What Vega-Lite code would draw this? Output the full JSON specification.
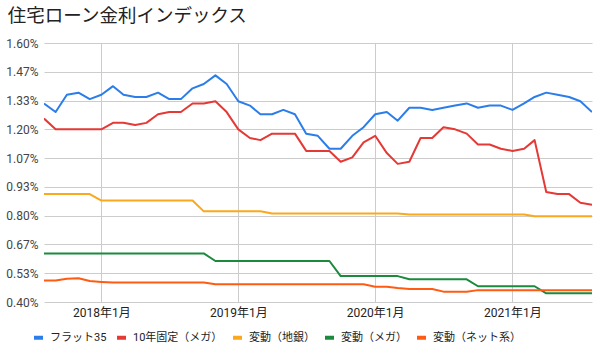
{
  "$schema": "https://vega.github.io/schema/vega-lite/v6.json",
  "width": 548,
  "height": 259,
  "autosize": {"type": "none"},
  "padding": {"left": 44, "top": 43, "right": 8, "bottom": 50},
  "background": "#ffffff",
  "title": {
    "text": "住宅ローン金利インデックス",
    "anchor": "start",
    "frame": "bounds",
    "offset": 12,
    "fontSize": 18.5,
    "fontWeight": "normal",
    "color": "#222222",
    "font": "Noto Sans CJK JP",
    "dx": 2
  },
  "config": {
    "view": {"stroke": null},
    "font": "Roboto, Noto Sans CJK JP"
  },
  "datasets": {
    "rates": [
      {"d": "2017/08/01", "s": "フラット35", "v": 1.32},
      {"d": "2017/09/01", "s": "フラット35", "v": 1.28},
      {"d": "2017/10/01", "s": "フラット35", "v": 1.36},
      {"d": "2017/11/01", "s": "フラット35", "v": 1.37},
      {"d": "2017/12/01", "s": "フラット35", "v": 1.34},
      {"d": "2018/01/01", "s": "フラット35", "v": 1.36},
      {"d": "2018/02/01", "s": "フラット35", "v": 1.40},
      {"d": "2018/03/01", "s": "フラット35", "v": 1.36},
      {"d": "2018/04/01", "s": "フラット35", "v": 1.35},
      {"d": "2018/05/01", "s": "フラット35", "v": 1.35},
      {"d": "2018/06/01", "s": "フラット35", "v": 1.37},
      {"d": "2018/07/01", "s": "フラット35", "v": 1.34},
      {"d": "2018/08/01", "s": "フラット35", "v": 1.34},
      {"d": "2018/09/01", "s": "フラット35", "v": 1.39},
      {"d": "2018/10/01", "s": "フラット35", "v": 1.41},
      {"d": "2018/11/01", "s": "フラット35", "v": 1.45},
      {"d": "2018/12/01", "s": "フラット35", "v": 1.41},
      {"d": "2019/01/01", "s": "フラット35", "v": 1.33},
      {"d": "2019/02/01", "s": "フラット35", "v": 1.31},
      {"d": "2019/03/01", "s": "フラット35", "v": 1.27},
      {"d": "2019/04/01", "s": "フラット35", "v": 1.27},
      {"d": "2019/05/01", "s": "フラット35", "v": 1.29},
      {"d": "2019/06/01", "s": "フラット35", "v": 1.27},
      {"d": "2019/07/01", "s": "フラット35", "v": 1.18},
      {"d": "2019/08/01", "s": "フラット35", "v": 1.17},
      {"d": "2019/09/01", "s": "フラット35", "v": 1.11},
      {"d": "2019/10/01", "s": "フラット35", "v": 1.11},
      {"d": "2019/11/01", "s": "フラット35", "v": 1.17},
      {"d": "2019/12/01", "s": "フラット35", "v": 1.21},
      {"d": "2020/01/01", "s": "フラット35", "v": 1.27},
      {"d": "2020/02/01", "s": "フラット35", "v": 1.28},
      {"d": "2020/03/01", "s": "フラット35", "v": 1.24},
      {"d": "2020/04/01", "s": "フラット35", "v": 1.30},
      {"d": "2020/05/01", "s": "フラット35", "v": 1.30},
      {"d": "2020/06/01", "s": "フラット35", "v": 1.29},
      {"d": "2020/07/01", "s": "フラット35", "v": 1.30},
      {"d": "2020/08/01", "s": "フラット35", "v": 1.31},
      {"d": "2020/09/01", "s": "フラット35", "v": 1.32},
      {"d": "2020/10/01", "s": "フラット35", "v": 1.30},
      {"d": "2020/11/01", "s": "フラット35", "v": 1.31},
      {"d": "2020/12/01", "s": "フラット35", "v": 1.31},
      {"d": "2021/01/01", "s": "フラット35", "v": 1.29},
      {"d": "2021/02/01", "s": "フラット35", "v": 1.32},
      {"d": "2021/03/01", "s": "フラット35", "v": 1.35},
      {"d": "2021/04/01", "s": "フラット35", "v": 1.37},
      {"d": "2021/05/01", "s": "フラット35", "v": 1.36},
      {"d": "2021/06/01", "s": "フラット35", "v": 1.35},
      {"d": "2021/07/01", "s": "フラット35", "v": 1.33},
      {"d": "2021/08/01", "s": "フラット35", "v": 1.28},

      {"d": "2017/08/01", "s": "10年固定（メガ）", "v": 1.25},
      {"d": "2017/09/01", "s": "10年固定（メガ）", "v": 1.20},
      {"d": "2017/10/01", "s": "10年固定（メガ）", "v": 1.20},
      {"d": "2017/11/01", "s": "10年固定（メガ）", "v": 1.20},
      {"d": "2017/12/01", "s": "10年固定（メガ）", "v": 1.20},
      {"d": "2018/01/01", "s": "10年固定（メガ）", "v": 1.20},
      {"d": "2018/02/01", "s": "10年固定（メガ）", "v": 1.23},
      {"d": "2018/03/01", "s": "10年固定（メガ）", "v": 1.23},
      {"d": "2018/04/01", "s": "10年固定（メガ）", "v": 1.22},
      {"d": "2018/05/01", "s": "10年固定（メガ）", "v": 1.23},
      {"d": "2018/06/01", "s": "10年固定（メガ）", "v": 1.27},
      {"d": "2018/07/01", "s": "10年固定（メガ）", "v": 1.28},
      {"d": "2018/08/01", "s": "10年固定（メガ）", "v": 1.28},
      {"d": "2018/09/01", "s": "10年固定（メガ）", "v": 1.32},
      {"d": "2018/10/01", "s": "10年固定（メガ）", "v": 1.32},
      {"d": "2018/11/01", "s": "10年固定（メガ）", "v": 1.33},
      {"d": "2018/12/01", "s": "10年固定（メガ）", "v": 1.28},
      {"d": "2019/01/01", "s": "10年固定（メガ）", "v": 1.20},
      {"d": "2019/02/01", "s": "10年固定（メガ）", "v": 1.16},
      {"d": "2019/03/01", "s": "10年固定（メガ）", "v": 1.15},
      {"d": "2019/04/01", "s": "10年固定（メガ）", "v": 1.18},
      {"d": "2019/05/01", "s": "10年固定（メガ）", "v": 1.18},
      {"d": "2019/06/01", "s": "10年固定（メガ）", "v": 1.18},
      {"d": "2019/07/01", "s": "10年固定（メガ）", "v": 1.10},
      {"d": "2019/08/01", "s": "10年固定（メガ）", "v": 1.10},
      {"d": "2019/09/01", "s": "10年固定（メガ）", "v": 1.10},
      {"d": "2019/10/01", "s": "10年固定（メガ）", "v": 1.05},
      {"d": "2019/11/01", "s": "10年固定（メガ）", "v": 1.07},
      {"d": "2019/12/01", "s": "10年固定（メガ）", "v": 1.14},
      {"d": "2020/01/01", "s": "10年固定（メガ）", "v": 1.17},
      {"d": "2020/02/01", "s": "10年固定（メガ）", "v": 1.09},
      {"d": "2020/03/01", "s": "10年固定（メガ）", "v": 1.04},
      {"d": "2020/04/01", "s": "10年固定（メガ）", "v": 1.05},
      {"d": "2020/05/01", "s": "10年固定（メガ）", "v": 1.16},
      {"d": "2020/06/01", "s": "10年固定（メガ）", "v": 1.16},
      {"d": "2020/07/01", "s": "10年固定（メガ）", "v": 1.21},
      {"d": "2020/08/01", "s": "10年固定（メガ）", "v": 1.20},
      {"d": "2020/09/01", "s": "10年固定（メガ）", "v": 1.18},
      {"d": "2020/10/01", "s": "10年固定（メガ）", "v": 1.13},
      {"d": "2020/11/01", "s": "10年固定（メガ）", "v": 1.13},
      {"d": "2020/12/01", "s": "10年固定（メガ）", "v": 1.11},
      {"d": "2021/01/01", "s": "10年固定（メガ）", "v": 1.10},
      {"d": "2021/02/01", "s": "10年固定（メガ）", "v": 1.11},
      {"d": "2021/03/01", "s": "10年固定（メガ）", "v": 1.15},
      {"d": "2021/04/01", "s": "10年固定（メガ）", "v": 0.91},
      {"d": "2021/05/01", "s": "10年固定（メガ）", "v": 0.90},
      {"d": "2021/06/01", "s": "10年固定（メガ）", "v": 0.90},
      {"d": "2021/07/01", "s": "10年固定（メガ）", "v": 0.86},
      {"d": "2021/08/01", "s": "10年固定（メガ）", "v": 0.85},

      {"d": "2017/08/01", "s": "変動（地銀）", "v": 0.90},
      {"d": "2017/09/01", "s": "変動（地銀）", "v": 0.90},
      {"d": "2017/10/01", "s": "変動（地銀）", "v": 0.90},
      {"d": "2017/11/01", "s": "変動（地銀）", "v": 0.90},
      {"d": "2017/12/01", "s": "変動（地銀）", "v": 0.90},
      {"d": "2018/01/01", "s": "変動（地銀）", "v": 0.87},
      {"d": "2018/02/01", "s": "変動（地銀）", "v": 0.87},
      {"d": "2018/03/01", "s": "変動（地銀）", "v": 0.87},
      {"d": "2018/04/01", "s": "変動（地銀）", "v": 0.87},
      {"d": "2018/05/01", "s": "変動（地銀）", "v": 0.87},
      {"d": "2018/06/01", "s": "変動（地銀）", "v": 0.87},
      {"d": "2018/07/01", "s": "変動（地銀）", "v": 0.87},
      {"d": "2018/08/01", "s": "変動（地銀）", "v": 0.87},
      {"d": "2018/09/01", "s": "変動（地銀）", "v": 0.87},
      {"d": "2018/10/01", "s": "変動（地銀）", "v": 0.82},
      {"d": "2018/11/01", "s": "変動（地銀）", "v": 0.82},
      {"d": "2018/12/01", "s": "変動（地銀）", "v": 0.82},
      {"d": "2019/01/01", "s": "変動（地銀）", "v": 0.82},
      {"d": "2019/02/01", "s": "変動（地銀）", "v": 0.82},
      {"d": "2019/03/01", "s": "変動（地銀）", "v": 0.82},
      {"d": "2019/04/01", "s": "変動（地銀）", "v": 0.81},
      {"d": "2019/05/01", "s": "変動（地銀）", "v": 0.81},
      {"d": "2019/06/01", "s": "変動（地銀）", "v": 0.81},
      {"d": "2019/07/01", "s": "変動（地銀）", "v": 0.81},
      {"d": "2019/08/01", "s": "変動（地銀）", "v": 0.81},
      {"d": "2019/09/01", "s": "変動（地銀）", "v": 0.81},
      {"d": "2019/10/01", "s": "変動（地銀）", "v": 0.81},
      {"d": "2019/11/01", "s": "変動（地銀）", "v": 0.81},
      {"d": "2019/12/01", "s": "変動（地銀）", "v": 0.81},
      {"d": "2020/01/01", "s": "変動（地銀）", "v": 0.81},
      {"d": "2020/02/01", "s": "変動（地銀）", "v": 0.81},
      {"d": "2020/03/01", "s": "変動（地銀）", "v": 0.81},
      {"d": "2020/04/01", "s": "変動（地銀）", "v": 0.805},
      {"d": "2020/05/01", "s": "変動（地銀）", "v": 0.805},
      {"d": "2020/06/01", "s": "変動（地銀）", "v": 0.805},
      {"d": "2020/07/01", "s": "変動（地銀）", "v": 0.805},
      {"d": "2020/08/01", "s": "変動（地銀）", "v": 0.805},
      {"d": "2020/09/01", "s": "変動（地銀）", "v": 0.805},
      {"d": "2020/10/01", "s": "変動（地銀）", "v": 0.805},
      {"d": "2020/11/01", "s": "変動（地銀）", "v": 0.805},
      {"d": "2020/12/01", "s": "変動（地銀）", "v": 0.805},
      {"d": "2021/01/01", "s": "変動（地銀）", "v": 0.805},
      {"d": "2021/02/01", "s": "変動（地銀）", "v": 0.805},
      {"d": "2021/03/01", "s": "変動（地銀）", "v": 0.797},
      {"d": "2021/04/01", "s": "変動（地銀）", "v": 0.797},
      {"d": "2021/05/01", "s": "変動（地銀）", "v": 0.797},
      {"d": "2021/06/01", "s": "変動（地銀）", "v": 0.797},
      {"d": "2021/07/01", "s": "変動（地銀）", "v": 0.797},
      {"d": "2021/08/01", "s": "変動（地銀）", "v": 0.797},

      {"d": "2017/08/01", "s": "変動（メガ）", "v": 0.625},
      {"d": "2017/09/01", "s": "変動（メガ）", "v": 0.625},
      {"d": "2017/10/01", "s": "変動（メガ）", "v": 0.625},
      {"d": "2017/11/01", "s": "変動（メガ）", "v": 0.625},
      {"d": "2017/12/01", "s": "変動（メガ）", "v": 0.625},
      {"d": "2018/01/01", "s": "変動（メガ）", "v": 0.625},
      {"d": "2018/02/01", "s": "変動（メガ）", "v": 0.625},
      {"d": "2018/03/01", "s": "変動（メガ）", "v": 0.625},
      {"d": "2018/04/01", "s": "変動（メガ）", "v": 0.625},
      {"d": "2018/05/01", "s": "変動（メガ）", "v": 0.625},
      {"d": "2018/06/01", "s": "変動（メガ）", "v": 0.625},
      {"d": "2018/07/01", "s": "変動（メガ）", "v": 0.625},
      {"d": "2018/08/01", "s": "変動（メガ）", "v": 0.625},
      {"d": "2018/09/01", "s": "変動（メガ）", "v": 0.625},
      {"d": "2018/10/01", "s": "変動（メガ）", "v": 0.625},
      {"d": "2018/11/01", "s": "変動（メガ）", "v": 0.59},
      {"d": "2018/12/01", "s": "変動（メガ）", "v": 0.59},
      {"d": "2019/01/01", "s": "変動（メガ）", "v": 0.59},
      {"d": "2019/02/01", "s": "変動（メガ）", "v": 0.59},
      {"d": "2019/03/01", "s": "変動（メガ）", "v": 0.59},
      {"d": "2019/04/01", "s": "変動（メガ）", "v": 0.59},
      {"d": "2019/05/01", "s": "変動（メガ）", "v": 0.59},
      {"d": "2019/06/01", "s": "変動（メガ）", "v": 0.59},
      {"d": "2019/07/01", "s": "変動（メガ）", "v": 0.59},
      {"d": "2019/08/01", "s": "変動（メガ）", "v": 0.59},
      {"d": "2019/09/01", "s": "変動（メガ）", "v": 0.59},
      {"d": "2019/10/01", "s": "変動（メガ）", "v": 0.52},
      {"d": "2019/11/01", "s": "変動（メガ）", "v": 0.52},
      {"d": "2019/12/01", "s": "変動（メガ）", "v": 0.52},
      {"d": "2020/01/01", "s": "変動（メガ）", "v": 0.52},
      {"d": "2020/02/01", "s": "変動（メガ）", "v": 0.52},
      {"d": "2020/03/01", "s": "変動（メガ）", "v": 0.52},
      {"d": "2020/04/01", "s": "変動（メガ）", "v": 0.505},
      {"d": "2020/05/01", "s": "変動（メガ）", "v": 0.505},
      {"d": "2020/06/01", "s": "変動（メガ）", "v": 0.505},
      {"d": "2020/07/01", "s": "変動（メガ）", "v": 0.505},
      {"d": "2020/08/01", "s": "変動（メガ）", "v": 0.505},
      {"d": "2020/09/01", "s": "変動（メガ）", "v": 0.505},
      {"d": "2020/10/01", "s": "変動（メガ）", "v": 0.473},
      {"d": "2020/11/01", "s": "変動（メガ）", "v": 0.473},
      {"d": "2020/12/01", "s": "変動（メガ）", "v": 0.473},
      {"d": "2021/01/01", "s": "変動（メガ）", "v": 0.473},
      {"d": "2021/02/01", "s": "変動（メガ）", "v": 0.473},
      {"d": "2021/03/01", "s": "変動（メガ）", "v": 0.473},
      {"d": "2021/04/01", "s": "変動（メガ）", "v": 0.44},
      {"d": "2021/05/01", "s": "変動（メガ）", "v": 0.44},
      {"d": "2021/06/01", "s": "変動（メガ）", "v": 0.44},
      {"d": "2021/07/01", "s": "変動（メガ）", "v": 0.44},
      {"d": "2021/08/01", "s": "変動（メガ）", "v": 0.44},

      {"d": "2017/08/01", "s": "変動（ネット系）", "v": 0.50},
      {"d": "2017/09/01", "s": "変動（ネット系）", "v": 0.50},
      {"d": "2017/10/01", "s": "変動（ネット系）", "v": 0.508},
      {"d": "2017/11/01", "s": "変動（ネット系）", "v": 0.51},
      {"d": "2017/12/01", "s": "変動（ネット系）", "v": 0.497},
      {"d": "2018/01/01", "s": "変動（ネット系）", "v": 0.493},
      {"d": "2018/02/01", "s": "変動（ネット系）", "v": 0.49},
      {"d": "2018/03/01", "s": "変動（ネット系）", "v": 0.49},
      {"d": "2018/04/01", "s": "変動（ネット系）", "v": 0.49},
      {"d": "2018/05/01", "s": "変動（ネット系）", "v": 0.49},
      {"d": "2018/06/01", "s": "変動（ネット系）", "v": 0.49},
      {"d": "2018/07/01", "s": "変動（ネット系）", "v": 0.49},
      {"d": "2018/08/01", "s": "変動（ネット系）", "v": 0.49},
      {"d": "2018/09/01", "s": "変動（ネット系）", "v": 0.49},
      {"d": "2018/10/01", "s": "変動（ネット系）", "v": 0.49},
      {"d": "2018/11/01", "s": "変動（ネット系）", "v": 0.482},
      {"d": "2018/12/01", "s": "変動（ネット系）", "v": 0.482},
      {"d": "2019/01/01", "s": "変動（ネット系）", "v": 0.482},
      {"d": "2019/02/01", "s": "変動（ネット系）", "v": 0.482},
      {"d": "2019/03/01", "s": "変動（ネット系）", "v": 0.482},
      {"d": "2019/04/01", "s": "変動（ネット系）", "v": 0.482},
      {"d": "2019/05/01", "s": "変動（ネット系）", "v": 0.482},
      {"d": "2019/06/01", "s": "変動（ネット系）", "v": 0.482},
      {"d": "2019/07/01", "s": "変動（ネット系）", "v": 0.482},
      {"d": "2019/08/01", "s": "変動（ネット系）", "v": 0.482},
      {"d": "2019/09/01", "s": "変動（ネット系）", "v": 0.482},
      {"d": "2019/10/01", "s": "変動（ネット系）", "v": 0.482},
      {"d": "2019/11/01", "s": "変動（ネット系）", "v": 0.482},
      {"d": "2019/12/01", "s": "変動（ネット系）", "v": 0.482},
      {"d": "2020/01/01", "s": "変動（ネット系）", "v": 0.471},
      {"d": "2020/02/01", "s": "変動（ネット系）", "v": 0.471},
      {"d": "2020/03/01", "s": "変動（ネット系）", "v": 0.465},
      {"d": "2020/04/01", "s": "変動（ネット系）", "v": 0.46},
      {"d": "2020/05/01", "s": "変動（ネット系）", "v": 0.46},
      {"d": "2020/06/01", "s": "変動（ネット系）", "v": 0.46},
      {"d": "2020/07/01", "s": "変動（ネット系）", "v": 0.448},
      {"d": "2020/08/01", "s": "変動（ネット系）", "v": 0.448},
      {"d": "2020/09/01", "s": "変動（ネット系）", "v": 0.448},
      {"d": "2020/10/01", "s": "変動（ネット系）", "v": 0.455},
      {"d": "2020/11/01", "s": "変動（ネット系）", "v": 0.455},
      {"d": "2020/12/01", "s": "変動（ネット系）", "v": 0.455},
      {"d": "2021/01/01", "s": "変動（ネット系）", "v": 0.455},
      {"d": "2021/02/01", "s": "変動（ネット系）", "v": 0.455},
      {"d": "2021/03/01", "s": "変動（ネット系）", "v": 0.455},
      {"d": "2021/04/01", "s": "変動（ネット系）", "v": 0.455},
      {"d": "2021/05/01", "s": "変動（ネット系）", "v": 0.455},
      {"d": "2021/06/01", "s": "変動（ネット系）", "v": 0.455},
      {"d": "2021/07/01", "s": "変動（ネット系）", "v": 0.455},
      {"d": "2021/08/01", "s": "変動（ネット系）", "v": 0.455}
    ]
  },
  "data": {"name": "rates"},
  "mark": {"type": "line", "strokeWidth": 2, "strokeJoin": "round", "clip": true},
  "encoding": {
    "x": {
      "field": "d",
      "type": "temporal",
      "scale": {"domain": [{"year": 2017, "month": 8, "date": 1}, {"year": 2021, "month": 8, "date": 1}]},
      "axis": {
        "title": null,
        "values": [
          {"year": 2018, "month": 1, "date": 1},
          {"year": 2019, "month": 1, "date": 1},
          {"year": 2020, "month": 1, "date": 1},
          {"year": 2021, "month": 1, "date": 1}
        ],
        "format": "%Y年%-m月",
        "formatType": "time",
        "domain": false,
        "ticks": false,
        "grid": true,
        "gridColor": "#cccccc",
        "gridWidth": 1,
        "labelFontSize": 12,
        "labelColor": "#222222",
        "labelPadding": 5,
        "labelFont": "Roboto, Noto Sans CJK JP"
      }
    },
    "y": {
      "field": "v",
      "type": "quantitative",
      "scale": {"domain": [0.4, 1.6], "nice": false, "zero": false},
      "axis": {
        "title": null,
        "values": [0.4, 0.5333333, 0.6666667, 0.8, 0.9333333, 1.0666667, 1.2, 1.3333333, 1.4666667, 1.6],
        "labelExpr": "format(datum.value, '.2f') + '%'",
        "domain": false,
        "ticks": false,
        "grid": true,
        "gridColor": "#cccccc",
        "gridWidth": 1,
        "labelFontSize": 12,
        "labelColor": "#444444",
        "labelPadding": 6,
        "labelFont": "Roboto"
      }
    },
    "color": {
      "field": "s",
      "type": "nominal",
      "sort": ["フラット35", "10年固定（メガ）", "変動（地銀）", "変動（メガ）", "変動（ネット系）"],
      "scale": {
        "domain": ["フラット35", "10年固定（メガ）", "変動（地銀）", "変動（メガ）", "変動（ネット系）"],
        "range": ["#2b7de9", "#e53935", "#f9a91b", "#1b8a3d", "#ff5b12"]
      },
      "legend": {
        "title": null,
        "orient": "none",
        "direction": "horizontal",
        "legendX": -12,
        "legendY": 288,
        "symbolType": "stroke",
        "symbolSize": 81,
        "symbolStrokeWidth": 4,
        "labelFontSize": 11,
        "labelColor": "#222222",
        "labelFont": "Roboto, Noto Sans CJK JP",
        "labelOffset": 5,
        "columnPadding": 2
      }
    }
  }
}
